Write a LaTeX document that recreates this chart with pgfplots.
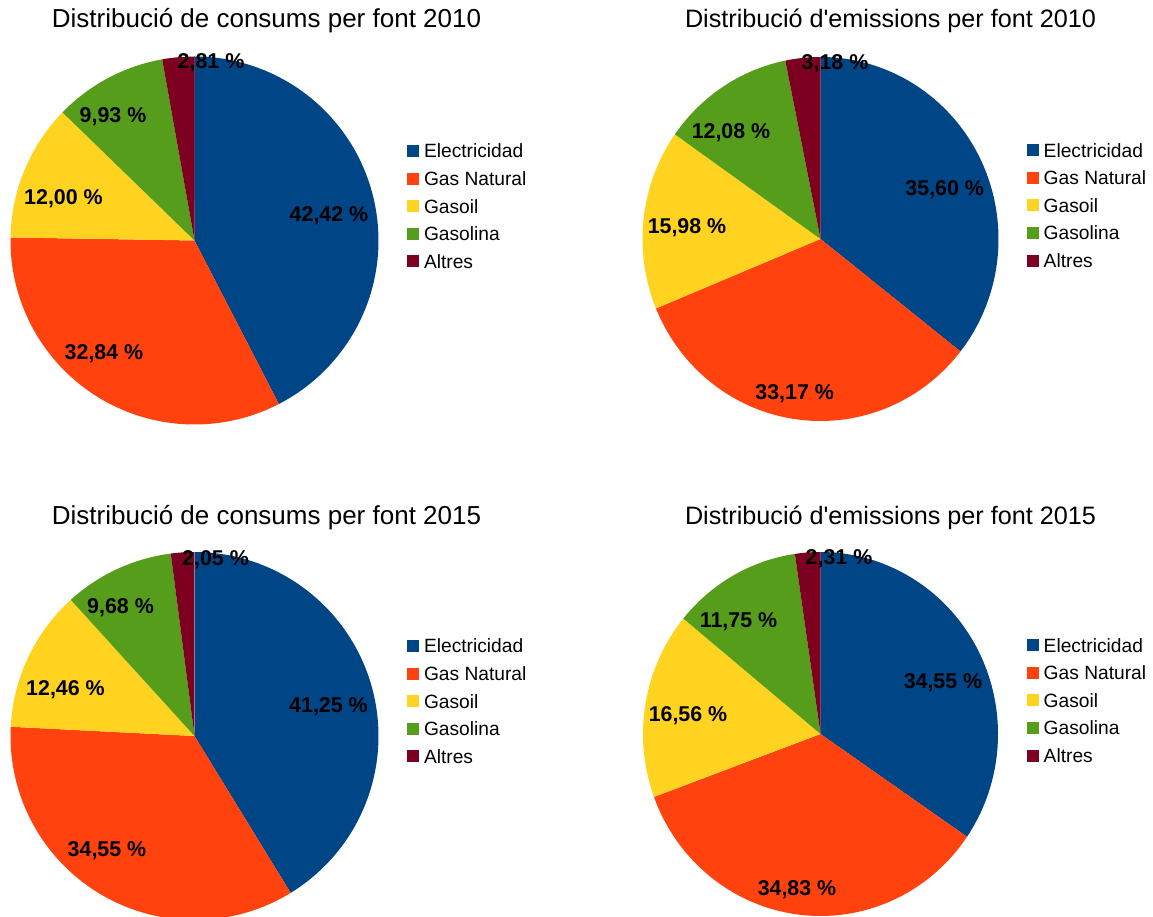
\documentclass[border=0pt]{standalone}
\usepackage{pgfplots}
\pgfplotsset{compat=1.18}
\usepackage{fontspec}
\setmainfont{Liberation Sans}

\definecolor{c1}{HTML}{004586}
\definecolor{c2}{HTML}{FF420E}
\definecolor{c3}{HTML}{FFD320}
\definecolor{c4}{HTML}{579D1C}
\definecolor{c5}{HTML}{7E0021}

% one wedge: centre x, centre y (pixels, downwards), rx, ry, start %, value %, colour
\newcommand\slice[7]{%
  \pgfmathsetmacro\angA{90-3.6*(#5+#6)}%
  \pgfmathsetmacro\angB{90-3.6*(#5)}%
  \addplot[fill=#7, draw=none, domain=\angA:\angB, samples=90, variable=\t]
    ({#1+#3*cos(\t)}, {-#2+#4*sin(\t)}) -- (axis cs:#1,-#2) -- cycle;
}
% whole pie: centre x, centre y, rx, ry, then the five shares in %
\newcommand\pie[9]{%
  \slice{#1}{#2}{#3}{#4}{0}{#5}{c1}
  \slice{#1}{#2}{#3}{#4}{#5}{#6}{c2}
  \slice{#1}{#2}{#3}{#4}{#5+#6}{#7}{c3}
  \slice{#1}{#2}{#3}{#4}{#5+#6+#7}{#8}{c4}
  \slice{#1}{#2}{#3}{#4}{#5+#6+#7+#8}{#9}{c5}
}

\pgfplotsset{
  piebase/.style={
    scale only axis, width=576.5bp, height=458.5bp,
    xmin=0, xmax=1153, ymin=-917, ymax=0,
    hide axis, clip=false, at={(0,0)}, anchor=origin,
    legend image code/.code={\fill[##1] (0bp,-3bp) rectangle (6bp,3bp); \path (8.5bp,0bp);},
    legend style={draw=none, fill=none, inner sep=0pt, outer sep=0pt, row sep=0pt,
      font=\fontsize{9.6bp}{11bp}\selectfont,
      cells={anchor=west},
      nodes={inner sep=0pt, text height=10.34bp, text depth=3.46bp}},
  },
}
\tikzset{
  lab/.style={anchor=base, inner sep=0pt, font=\fontsize{10.7bp}{12bp}\selectfont\bfseries},
  ttl/.style={anchor=base, inner sep=0pt, font=\fontsize{13.0bp}{15bp}\selectfont},
  ttlb/.style={anchor=base, inner sep=0pt, font=\fontsize{12.6bp}{15bp}\selectfont},
}

\begin{document}
\begin{tikzpicture}
\useasboundingbox (0bp,-458.5bp) rectangle (576.5bp,0bp);

% ---------- consums 2010 ----------
\begin{axis}[piebase, legend style={at={(axis description cs:0.35299,0.85038)}, anchor=north west}]
\pie{194.5}{240.5}{184}{184}{42.42}{32.84}{12.00}{9.93}{2.81}
\legend{Electricidad, Gas Natural, Gasoil, Gasolina, Altres}
\node[ttl] at (axis cs:266.5,-27.7) {Distribució de consums per font 2010};
\node[lab] at (axis cs:329,-221.7) {42,42 \%};
\node[lab] at (axis cs:104,-360) {32,84 \%};
\node[lab] at (axis cs:63.5,-205) {12,00 \%};
\node[lab] at (axis cs:113,-122.7) {9,93 \%};
\node[lab] at (axis cs:211,-69) {2,81 \%};
\end{axis}

% ---------- emissions 2010 ----------
\begin{axis}[piebase, legend style={at={(axis description cs:0.89047,0.85125)}, anchor=north west}]
\pie{820.5}{239}{178}{182}{35.60}{33.17}{15.98}{12.08}{3.18}
\legend{Electricidad, Gas Natural, Gasoil, Gasolina, Altres}
\node[ttlb] at (axis cs:890.5,-27.7) {Distribució d\textquotesingle emissions per font 2010};
\node[lab] at (axis cs:944.7,-196) {35,60 \%};
\node[lab] at (axis cs:794.7,-400) {33,17 \%};
\node[lab] at (axis cs:687,-234) {15,98 \%};
\node[lab] at (axis cs:731,-139) {12,08 \%};
\node[lab] at (axis cs:835,-70) {3,18 \%};
\end{axis}

% ---------- consums 2015 ----------
\begin{axis}[piebase, legend style={at={(axis description cs:0.35299,0.31058)}, anchor=north west}]
\pie{194.5}{736}{184}{184}{41.25}{34.55}{12.46}{9.68}{2.05}
\legend{Electricidad, Gas Natural, Gasoil, Gasolina, Altres}
\node[ttl] at (axis cs:266.5,-524.7) {Distribució de consums per font 2015};
\node[lab] at (axis cs:328.5,-712.3) {41,25 \%};
\node[lab] at (axis cs:107,-856.7) {34,55 \%};
\node[lab] at (axis cs:65.5,-695) {12,46 \%};
\node[lab] at (axis cs:120.5,-613) {9,68 \%};
\node[lab] at (axis cs:215.5,-565) {2,05 \%};
\end{axis}

% ---------- emissions 2015 ----------
\begin{axis}[piebase, legend style={at={(axis description cs:0.89047,0.31145)}, anchor=north west}]
\pie{820.5}{734}{177.5}{182}{34.55}{34.83}{16.56}{11.75}{2.31}
\legend{Electricidad, Gas Natural, Gasoil, Gasolina, Altres}
\node[ttlb] at (axis cs:890.5,-524.7) {Distribució d\textquotesingle emissions per font 2015};
\node[lab] at (axis cs:943,-688.3) {34,55 \%};
\node[lab] at (axis cs:797,-895) {34,83 \%};
\node[lab] at (axis cs:688,-721.7) {16,56 \%};
\node[lab] at (axis cs:738.5,-627) {11,75 \%};
\node[lab] at (axis cs:839,-564) {2,31 \%};
\end{axis}
\end{tikzpicture}
\end{document}
